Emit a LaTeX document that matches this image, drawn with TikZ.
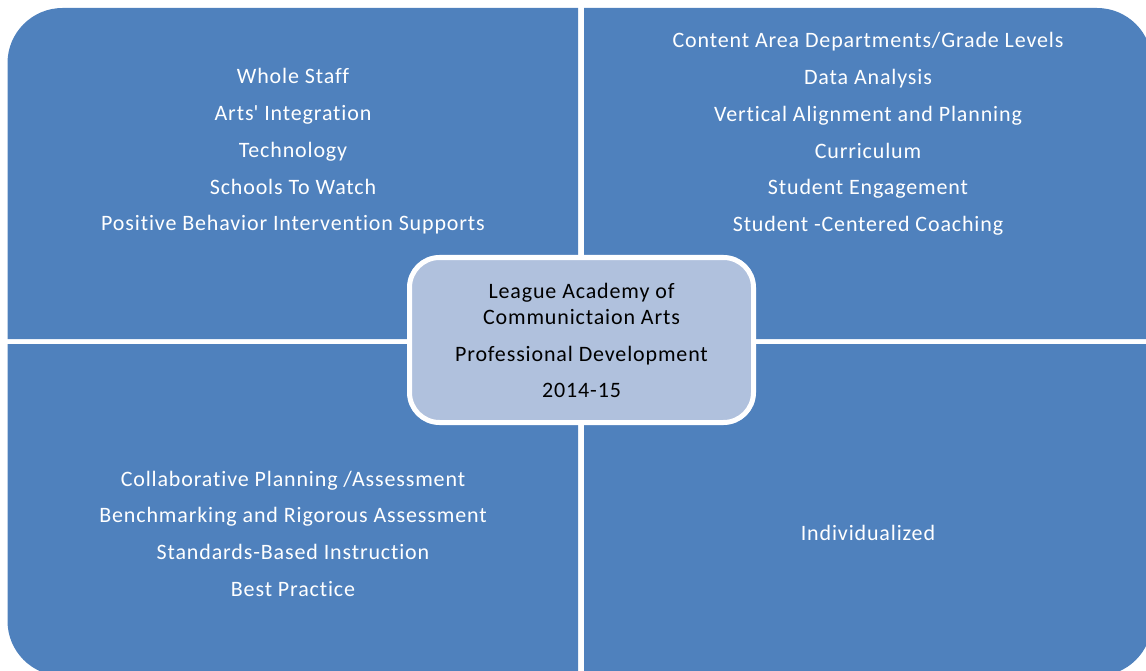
\documentclass[tikz,border=0pt]{standalone}
\usepackage{fontspec}
\setmainfont{Carlito}[Ligatures={NoCommon},LetterSpace=3.9]
\definecolor{quad}{HTML}{4F81BD}
\definecolor{core}{HTML}{B0C1DD}
\begin{document}
\begin{tikzpicture}[x=1pt,y=-1pt,
  quadfill/.style={fill=quad},
  qtext/.style={text=white,align=center,font=\fontsize{22}{36.7}\selectfont,inner sep=0pt},
  corebox/.style={draw=white,line width=5pt,fill=core,rounded corners=30pt,minimum width=344pt,minimum height=165pt,align=center,font=\fontsize{22}{26}\selectfont,text=black,inner sep=0pt}]
\useasboundingbox (0,0) rectangle (1146,671);
\begin{scope}
\clip (0,0) rectangle (1146,671);
\path[quadfill] (7.5,339) [rounded corners=55pt] -- (7.5,8) [sharp corners] -- (578,8) -- (578,339) -- cycle;
\path[quadfill] (584,8) [rounded corners=55pt] -- (1152,8) [sharp corners] -- (1152,339) -- (584,339) -- cycle;
\path[quadfill] (578,676) [rounded corners=55pt] -- (7.5,676) [sharp corners] -- (7.5,344) -- (578,344) -- cycle;
\path[quadfill] (1152,344) [rounded corners=55pt] -- (1152,676) [sharp corners] -- (584,676) -- (584,344) -- cycle;
\end{scope}
\node[qtext] (tl) at (293,151.5) {Whole Staff\\Arts\textquotesingle{} Integration\\Technology\\Schools To Watch\\Positive Behavior Intervention Supports};
\node[qtext] (tr) at (868,134) {Content Area Departments/Grade Levels\\Data Analysis\\Vertical Alignment and Planning\\Curriculum\\Student Engagement\\Student -Centered Coaching};
\node[qtext] (bl) at (293,533.5) {Collaborative Planning /Assessment\\Benchmarking and Rigorous Assessment\\Standards-Based Instruction\\Best Practice};
\node[qtext] (br) at (868,533) {Individualized};
\node[corebox] (core) at (581.5,340) {League Academy of\\Communictaion Arts\\[11pt]Professional Development\\[10pt]2014-15};
\end{tikzpicture}
\end{document}
